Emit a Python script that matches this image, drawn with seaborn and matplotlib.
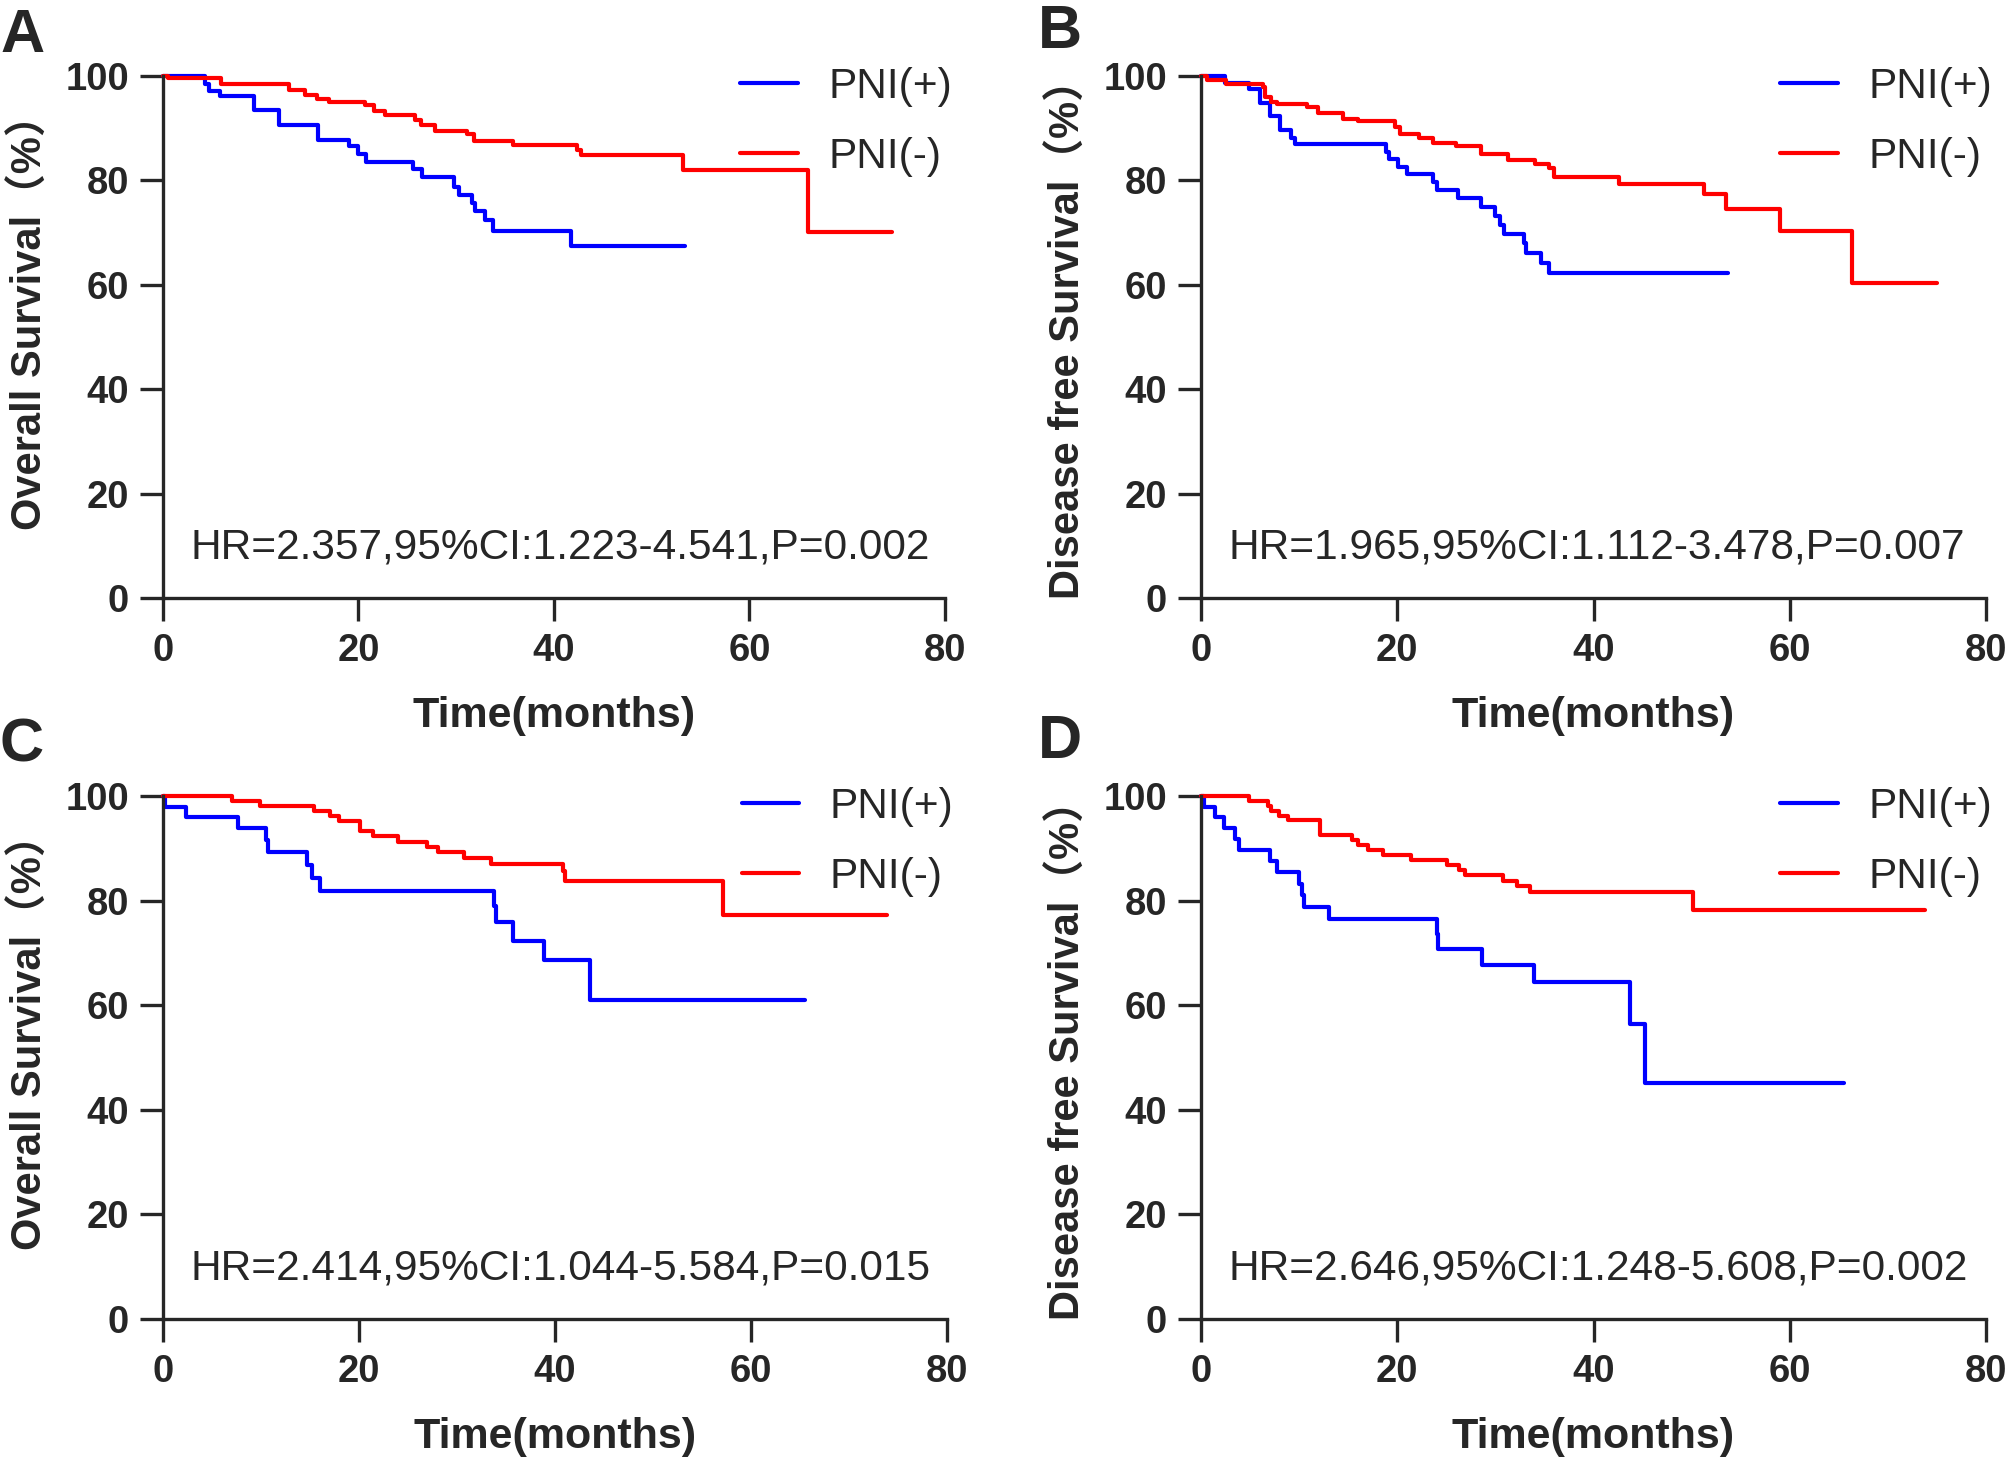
import numpy as np
import pandas as pd
import matplotlib
matplotlib.use('Agg')
import matplotlib.pyplot as plt
import seaborn as sns

# Kaplan-Meier step values (time in months, survival in %)
a_pos_t = [0, 4.3, 4.7, 5.8, 9.3, 11.9, 15.9, 19.0, 19.9, 20.8, 25.6, 26.5, 29.8, 30.3, 31.6, 31.9, 32.9, 33.8, 41.7, 53.4]
a_pos_s = [100, 98.5, 97.2, 96.1, 93.4, 90.6, 87.8, 86.5, 85.1, 83.6, 82.2, 80.6, 78.8, 77.2, 75.7, 74.1, 72.4, 70.4, 67.4, 67.4]
a_neg_t = [0, 0.5, 5.9, 12.9, 14.5, 15.8, 17.0, 20.7, 21.6, 22.7, 25.8, 26.4, 27.8, 31.1, 31.8, 35.8, 42.4, 42.8, 53.2, 66.0, 74.6]
a_neg_s = [100, 99.6, 98.4, 97.3, 96.4, 95.5, 95.0, 94.5, 93.3, 92.5, 91.6, 90.6, 89.5, 88.9, 87.6, 86.7, 85.9, 84.9, 82.0, 70.2, 70.2]

b_pos_t = [0, 2.4, 4.9, 6.0, 7.0, 8.0, 9.2, 9.6, 18.9, 19.2, 20.1, 21.0, 23.6, 24.0, 26.2, 28.5, 30.0, 30.5, 30.9, 32.9, 33.1, 34.7, 35.5, 53.7]
b_pos_s = [100, 98.7, 97.5, 94.9, 92.3, 89.7, 88.2, 86.9, 85.4, 84.1, 82.6, 81.2, 79.7, 78.2, 76.6, 75.0, 73.2, 71.5, 69.8, 68.0, 66.1, 64.1, 62.2, 62.2]
b_neg_t = [0, 0.6, 2.5, 6.3, 6.5, 7.1, 7.7, 10.8, 11.9, 14.5, 16.0, 19.8, 20.3, 22.2, 23.6, 26.0, 28.5, 31.3, 34.0, 35.5, 36.0, 42.6, 51.3, 53.5, 59.0, 66.3, 75.0]
b_neg_s = [100, 99.2, 98.4, 97.8, 95.9, 95.1, 94.6, 94.0, 93.0, 91.8, 91.3, 90.2, 88.9, 88.2, 87.2, 86.5, 85.1, 83.9, 83.2, 82.3, 80.6, 79.4, 77.3, 74.6, 70.4, 60.3, 60.3]

c_pos_t = [0, 0.2, 2.3, 7.7, 10.5, 10.7, 14.7, 15.2, 16.0, 33.8, 34.0, 35.7, 38.9, 43.6, 65.5]
c_pos_s = [100, 97.9, 95.9, 93.8, 91.5, 89.2, 86.9, 84.4, 81.9, 78.9, 75.9, 72.3, 68.6, 61.0, 61.0]
c_neg_t = [0, 7.0, 9.9, 15.4, 17.0, 18.0, 20.1, 21.4, 24.0, 26.9, 28.1, 30.7, 33.5, 40.8, 41.0, 57.1, 73.9]
c_neg_s = [100, 99.0, 98.1, 97.1, 96.2, 95.2, 93.3, 92.4, 91.3, 90.3, 89.2, 88.1, 87.0, 85.6, 83.8, 77.2, 77.2]

d_pos_t = [0, 0.3, 1.4, 2.3, 3.5, 3.9, 7.0, 7.7, 10.0, 10.3, 10.5, 13.0, 24.0, 24.2, 28.6, 33.9, 43.7, 45.2, 65.5]
d_pos_s = [100, 97.9, 95.9, 93.8, 91.7, 89.7, 87.6, 85.4, 83.2, 81.0, 78.7, 76.5, 73.7, 70.8, 67.6, 64.4, 56.5, 45.2, 45.2]
d_neg_t = [0, 4.9, 6.8, 7.1, 7.9, 8.9, 12.1, 15.4, 16.0, 17.0, 18.5, 21.4, 25.1, 26.3, 26.9, 30.8, 32.2, 33.5, 50.1, 73.8]
d_neg_s = [100, 99.0, 98.1, 97.1, 96.2, 95.4, 92.6, 91.6, 90.7, 89.7, 88.8, 87.8, 86.9, 85.8, 84.8, 83.7, 82.7, 81.6, 78.2, 78.2]

panel_letters = ['A', 'B', 'C', 'D']
y_labels = ['Overall Survival\uff08%\uff09', 'Disease free Survival\uff08%\uff09',
            'Overall Survival\uff08%\uff09', 'Disease free Survival\uff08%\uff09']
hr_texts = ['HR=2.357,95%CI:1.223-4.541,P=0.002', 'HR=1.965,95%CI:1.112-3.478,P=0.007',
            'HR=2.414,95%CI:1.044-5.584,P=0.015', 'HR=2.646,95%CI:1.248-5.608,P=0.002']
groups = ['PNI(+)', 'PNI(-)']
colores = {'PNI(+)': '#0000ff', 'PNI(-)': '#ff0000'}

curvas = [(a_pos_t, a_pos_s, a_neg_t, a_neg_s),
          (b_pos_t, b_pos_s, b_neg_t, b_neg_s),
          (c_pos_t, c_pos_s, c_neg_t, c_neg_s),
          (d_pos_t, d_pos_s, d_neg_t, d_neg_s)]

sns.set_style('ticks')
plt.rcParams['font.family'] = ['Liberation Sans', 'Noto Sans CJK SC', 'DejaVu Sans']
plt.rcParams['axes.linewidth'] = 2.4

W, H = 2008, 1461
fig = plt.figure(figsize=(W / 100, H / 100), dpi=100)

# axes rectangles in pixels: left, top(y=100), right(x=80), bottom(y=0)
cajas = [(163, 76, 945, 598), (1201, 76, 1986, 598),
         (163, 796, 947, 1319), (1201, 796, 1986, 1319)]
letra_top = [8, 4, 718, 714]
label_y = [0.548, 0.515, 0.548, 0.515]

def km_df(pos_t, pos_s, neg_t, neg_s):
    # tabla larga para seaborn
    d1 = pd.DataFrame({'time': pos_t, 'surv': pos_s, 'group': groups[0]})
    d2 = pd.DataFrame({'time': neg_t, 'surv': neg_s, 'group': groups[1]})
    return pd.concat([d1, d2], ignore_index=True)

for i, (l, t, r, b) in enumerate(cajas):
    ax = fig.add_axes([l / W, 1 - b / H, (r - l) / W, (b - t) / H])
    df = km_df(*curvas[i])
    sns.lineplot(data=df, x='time', y='surv', hue='group', hue_order=groups,
                 palette=colores, drawstyle='steps-post', estimator=None,
                 sort=False, ax=ax)
    for ln in ax.get_lines():
        ln.set_clip_on(False)
        ln.set_linewidth(3.0)
    ax.set_xlim(0, 80)
    ax.set_ylim(0, 100)
    ax.set_xticks([0, 20, 40, 60, 80])
    ax.set_yticks([0, 20, 40, 60, 80, 100])
    sns.despine(ax=ax)
    ax.tick_params(axis='both', length=16.5, width=2.4, labelsize=27.5)
    ax.tick_params(axis='x', pad=9)
    ax.tick_params(axis='y', pad=8)
    for lab in ax.get_xticklabels() + ax.get_yticklabels():
        lab.set_fontweight('bold')
    ax.set_xlabel('Time(months)', fontsize=31, fontweight='bold', labelpad=19)
    ax.set_ylabel(y_labels[i], fontsize=30, fontweight='bold')
    ax.yaxis.set_label_coords(-0.143, label_y[i])
    ax.text(2.8, 9.6, hr_texts[i], fontsize=30.5, va='center', ha='left')
    handles, labels = ax.get_legend_handles_labels()
    for h in handles:
        h.set_linewidth(3.0)
    ax.legend(handles, labels, loc='upper left', bbox_to_anchor=(0.738, 1.018),
              frameon=False, fontsize=30.5, handlelength=1.36, handletextpad=0.72,
              labelspacing=0.72, borderpad=0, borderaxespad=0)
    fig.text((l - 163) / W, 1 - letra_top[i] / H, panel_letters[i], fontsize=44,
             fontweight='bold', ha='left', va='top')

fig.savefig('out.png', dpi=100)
